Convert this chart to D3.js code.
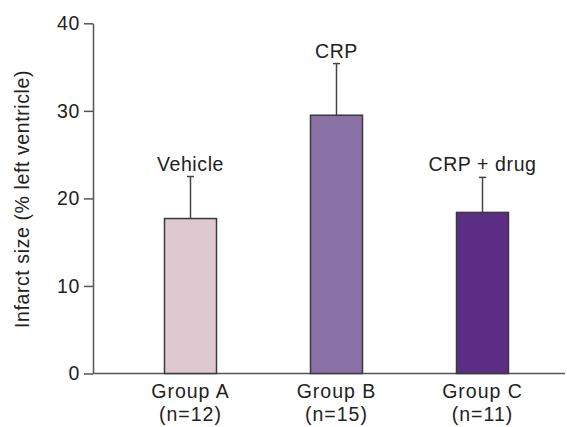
<!DOCTYPE html>
<html>
<head>
<meta charset="utf-8">
<script src="https://cdn.jsdelivr.net/npm/d3@7"></script>
<style>
  body { margin: 0; background: #fff; }
  text { font-family: "Liberation Sans", Arial, sans-serif; fill: #222; }
</style>
</head>
<body>
<div id="vis"></div>
<script>
//chart data
const groups = ['Group A', 'Group B', 'Group C']
const sizes = ['(n=12)', '(n=15)', '(n=11)']
const labels = ['Vehicle', 'CRP', 'CRP + drug']
const means = [17.7, 29.5, 18.4]
const errors = [4.8, 5.9, 4.0]
const colors = ['#dfc9d1', '#8b72a6', '#5c2d84']
const yTicks = [0, 10, 20, 30, 40]

const width = 567
const height = 427
const fontSize = 19.5

const svg = d3.select('#vis')
    .append('svg')
    .attr('width', width)
    .attr('height', height)

//scales
const x = d3.scalePoint()
    .domain(groups)
    .range([117.5, 555.5])
    .padding(0.5)

const y = d3.scaleLinear()
    .domain([0, 40])
    .range([373.5, 23.3])

const barWidth = 52

//y axis
const yAxis = svg.append('g')
    .attr('transform', 'translate(93,0)')
    .call(d3.axisLeft(y).tickValues(yTicks).tickSize(9).tickSizeOuter(0).tickPadding(4))
yAxis.select('.domain').attr('stroke', '#555').attr('stroke-width', 1.5)
yAxis.selectAll('.tick line').attr('stroke', '#555').attr('stroke-width', 1.5)
yAxis.selectAll('.tick text')
    .attr('font-size', fontSize)
    .attr('font-family', '"Liberation Sans", Arial, sans-serif')
    .attr('letter-spacing', 0.6)
    .attr('fill', '#222')

//x axis line
svg.append('line')
    .attr('x1', 93).attr('x2', 565)
    .attr('y1', y(0)).attr('y2', y(0))
    .attr('stroke', '#555')
    .attr('stroke-width', 1.5)

//bars
const bars = svg.selectAll('.bar')
    .data(groups)
    .enter()
    .append('g')
    .attr('class', 'bar')

bars.append('line')
    .attr('x1', d => x(d)).attr('x2', d => x(d))
    .attr('y1', (d, i) => y(means[i]))
    .attr('y2', (d, i) => y(means[i] + errors[i]))
    .attr('stroke', '#444').attr('stroke-width', 1.5)

bars.append('line')
    .attr('x1', d => x(d) - 3.5).attr('x2', d => x(d) + 3.5)
    .attr('y1', (d, i) => y(means[i] + errors[i]))
    .attr('y2', (d, i) => y(means[i] + errors[i]))
    .attr('stroke', '#444').attr('stroke-width', 1.5)

bars.append('rect')
    .attr('x', d => x(d) - barWidth / 2)
    .attr('width', barWidth)
    .attr('y', (d, i) => y(means[i]))
    .attr('height', (d, i) => y(0) - y(means[i]))
    .attr('fill', (d, i) => colors[i])
    .attr('stroke', '#3a3a3a')
    .attr('stroke-width', 1.5)

//labels above error bars
bars.append('text')
    .attr('x', d => x(d))
    .attr('y', (d, i) => y(means[i] + errors[i]) - 6)
    .attr('text-anchor', 'middle')
    .attr('font-size', fontSize)
    .attr('letter-spacing', 0.6)
    .text((d, i) => labels[i])

//group names under the axis
bars.append('text')
    .attr('x', d => x(d))
    .attr('y', 398)
    .attr('text-anchor', 'middle')
    .attr('font-size', fontSize)
    .attr('letter-spacing', 1)
    .text(d => d)

bars.append('text')
    .attr('x', d => x(d))
    .attr('y', 421)
    .attr('text-anchor', 'middle')
    .attr('font-size', fontSize)
    .attr('letter-spacing', 1)
    .text((d, i) => sizes[i])

//y axis title
svg.append('text')
    .attr('transform', 'translate(29,199) rotate(-90)')
    .attr('text-anchor', 'middle')
    .attr('font-size', fontSize)
    .attr('letter-spacing', 0.6)
    .text('Infarct size (% left ventricle)')
</script>
</body>
</html>
